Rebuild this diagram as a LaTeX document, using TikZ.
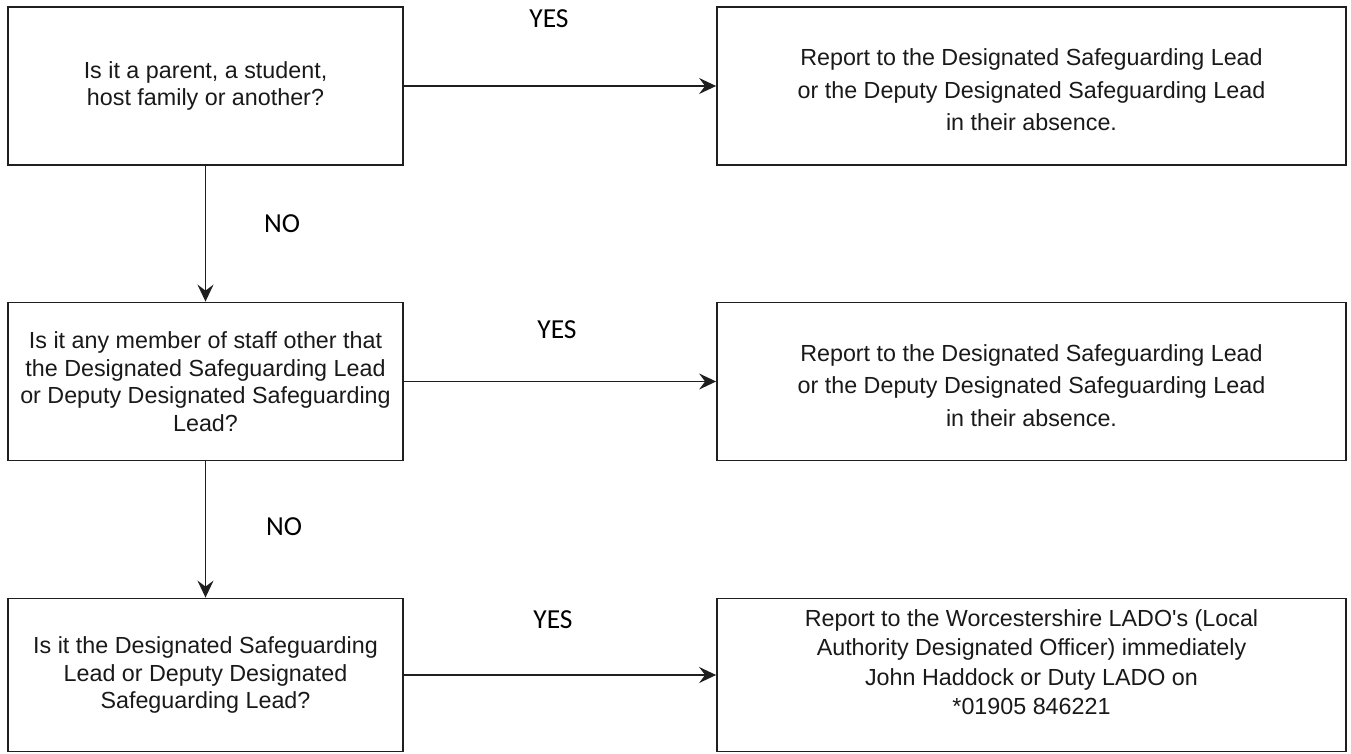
\documentclass[tikz,border=0pt]{standalone}
\usepackage{fontspec}
\setmainfont{Liberation Sans}
\newfontfamily\answerfont{Carlito}
\usetikzlibrary{arrows.meta}
\begin{document}
\begin{tikzpicture}[x=1pt,y=-1pt,
  every node/.style={text=black!90},
  question/.style={draw=black!88,line width=1.8pt,minimum width=395pt,minimum height=158pt,
    inner sep=0pt,align=center,font=\fontsize{23.3}{27.5}\selectfont},
  action/.style={draw=black!88,line width=1.8pt,minimum width=629pt,minimum height=158pt,
    inner sep=0pt,align=center,font=\fontsize{23.3}{32.5}\selectfont},
  answer/.style={font=\answerfont\fontsize{27.5}{30}\selectfont,text=black},
  flow/.style={draw=black!88,line width=1.7pt,-{Stealth[length=17pt,width=16pt,inset=6pt]}}]
  \useasboundingbox (0,0) rectangle (1351,754);
  % questions on the left
  \node[question] (q1) at (205.5,86) {Is it a parent, a student,\\host family or another?};
  \node[question] (q2) at (205.5,381.5) {Is it any member of staff other that\\the Designated Safeguarding Lead\\or Deputy Designated Safeguarding\\Lead?};
  \node[question,minimum height=153pt] (q3) at (205.5,675) {Is it the Designated Safeguarding\\Lead or Deputy Designated\\Safeguarding Lead?};
  % what to do on the right
  \node[action] (r1) at (1031.5,86) {Report to the Designated Safeguarding Lead\\or the Deputy Designated Safeguarding Lead\\in their absence.\\[-40.5pt]};
  \node[action] (r2) at (1031.5,381.5) {Report to the Designated Safeguarding Lead\\or the Deputy Designated Safeguarding Lead\\in their absence.\\[-40.5pt]};
  \node[action,minimum height=153pt,font=\fontsize{23.3}{29.5}\selectfont] (r3) at (1031.5,675) {Report to the Worcestershire LADO\textquotesingle s (Local\\Authority Designated Officer) immediately\\John Haddock or Duty LADO on\\*01905 846221\\[-3.5pt]};
  % answers
  \node[answer] (yes1) at (549,19) {YES};
  \node[answer] (yes2) at (557,330) {YES};
  \node[answer] (yes3) at (553,620) {YES};
  \node[answer] (no1) at (282,224) {NO};
  \node[answer] (no2) at (284,527) {NO};
  % connectors
  \draw[flow] (q1) -- (r1);
  \draw[flow] (q2) -- (r2);
  \draw[flow] (q3) -- (r3);
  \draw[flow] (q1) -- (q2);
  \draw[flow] (q2) -- (q3);
\end{tikzpicture}
\end{document}
